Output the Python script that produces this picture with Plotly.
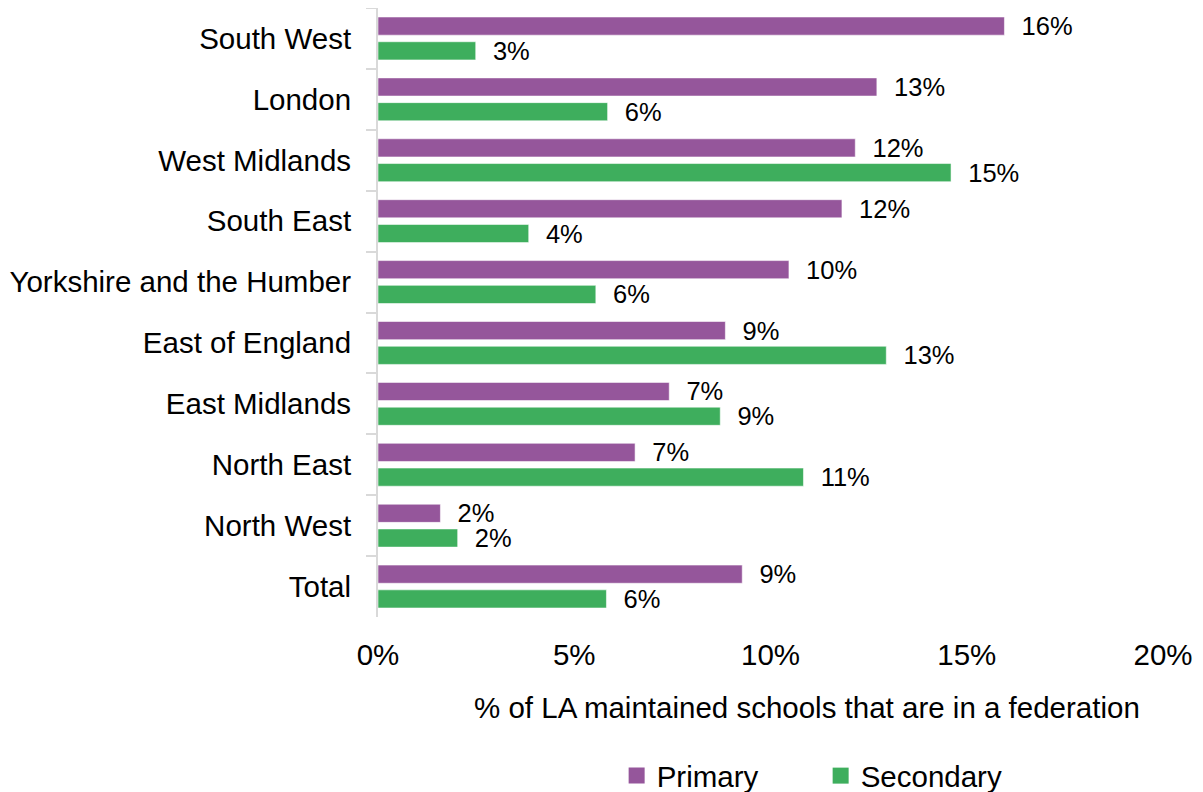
import plotly.graph_objects as go

regions = ["South West", "London", "West Midlands", "South East",
           "Yorkshire and the Humber", "East of England", "East Midlands",
           "North East", "North West", "Total"]
primary = [15.96, 12.71, 12.16, 11.82, 10.47, 8.85, 7.42, 6.55, 1.59, 9.28]
secondary = [2.49, 5.85, 14.60, 3.84, 5.55, 12.95, 8.72, 10.84, 2.03, 5.82]
primary_labels = ["16%", "13%", "12%", "12%", "10%", "9%", "7%", "7%", "2%", "9%"]
secondary_labels = ["3%", "6%", "15%", "4%", "6%", "13%", "9%", "11%", "2%", "6%"]
x_ticks = [0, 5, 10, 15, 20]
x_tick_labels = ["0%", "5%", "10%", "15%", "20%"]

FONT = "Liberation Sans, Arial, sans-serif"
PURPLE = "#95569B"
GREEN = "#3EAE5D"
NBSP = "\u00a0\u00a0"
FS = 29.5

fig = go.Figure()
fig.add_trace(go.Bar(
    name="Primary", y=regions, x=primary, orientation="h",
    marker=dict(color=PURPLE, line=dict(color="rgba(255,255,255,0.55)", width=1)),
    text=[NBSP + t for t in primary_labels], textposition="outside",
    textfont=dict(size=25.5, color="#000000", family=FONT),
    cliponaxis=False, constraintext="none", showlegend=False,
))
fig.add_trace(go.Bar(
    name="Secondary", y=regions, x=secondary, orientation="h",
    marker=dict(color=GREEN, line=dict(color="rgba(255,255,255,0.55)", width=1)),
    text=[NBSP + t for t in secondary_labels], textposition="outside",
    textfont=dict(size=25.5, color="#000000", family=FONT),
    cliponaxis=False, constraintext="none", showlegend=False,
))
# legend entries with larger square swatches
for name, col in [("Primary", PURPLE), ("Secondary", GREEN)]:
    fig.add_trace(go.Scatter(
        name=name, x=[None], y=[None], mode="markers",
        marker=dict(symbol="square", size=16, color=col),
        showlegend=True, hoverinfo="skip",
    ))

fig.update_layout(
    width=1195, height=784,
    margin=dict(l=370, r=40, t=0, b=175, autoexpand=False),
    paper_bgcolor="white", plot_bgcolor="white",
    font=dict(family=FONT, size=FS, color="#000000"),
    barmode="group", bargap=0.187, bargroupgap=0.266,
    showlegend=True,
    legend=dict(orientation="h", x=0.304, xanchor="left", y=-0.261, yanchor="middle",
                font=dict(size=FS, family=FONT), traceorder="normal",
                entrywidth=159, entrywidthmode="pixels", itemsizing="trace"),
    annotations=[dict(
        text="% of LA maintained schools that are in a federation",
        xref="paper", yref="paper", x=0.5465, y=-0.1494,
        xanchor="center", yanchor="middle", showarrow=False,
        font=dict(size=FS, family=FONT, color="#000000"),
    )],
)
fig.update_xaxes(
    range=[0, 20], tickvals=x_ticks, ticktext=x_tick_labels,
    showgrid=False, zeroline=False, showline=False, ticks="",
    ticklabelstandoff=17, automargin=False,
)
fig.update_yaxes(
    autorange="reversed", showgrid=False, zeroline=False,
    showline=True, linecolor="#d9d9d9", linewidth=2,
    ticks="outside", tickson="boundaries", ticklen=10, tickwidth=2, tickcolor="#d9d9d9",
    ticklabelstandoff=19, automargin=False,
)

fig.write_html("out.html")
